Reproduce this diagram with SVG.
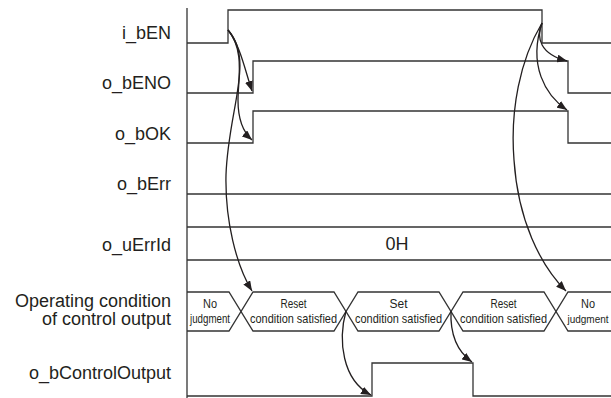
<svg xmlns="http://www.w3.org/2000/svg" width="611" height="398" viewBox="0 0 611 398">
<defs>
<marker id="ah" viewBox="0 0 10 8" refX="10" refY="4" markerWidth="10" markerHeight="8" markerUnits="userSpaceOnUse" orient="auto">
<path d="M0,0 L10,4 L0,8 Z" fill="#231f20"/>
</marker>
<style>
.sig{fill:none;stroke:#333;stroke-width:1.3}
.con{fill:none;stroke:#231f20;stroke-width:1.3;marker-end:url(#ah)}
.lbl{font-family:"Liberation Sans",Arial,sans-serif;font-size:18px;fill:#231f20;text-anchor:end}
.val{font-family:"Liberation Sans",Arial,sans-serif;font-size:18px;fill:#231f20;text-anchor:middle}
.st{font-family:"Liberation Sans",Arial,sans-serif;font-size:13px;fill:#231f20;text-anchor:middle}
</style>
</defs>
<rect width="611" height="398" fill="#fff"/>
<path class="sig" d="M187,8 V398"/>
<g id="i_bEN">
<text class="lbl" x="171" y="38.5">i_bEN</text>
<path class="sig" d="M187,43 H228 V10 H542 V43 H611"/>
</g>
<g id="o_bENO">
<text class="lbl" x="171" y="89">o_bENO</text>
<path class="sig" d="M187,93 H253 V61 H568 V93 H611"/>
</g>
<g id="o_bOK">
<text class="lbl" x="171" y="139.5">o_bOK</text>
<path class="sig" d="M187,143 H253 V111 H568 V143 H611"/>
</g>
<g id="o_bErr">
<text class="lbl" x="171" y="189.5">o_bErr</text>
<path class="sig" d="M187,194 H611"/>
</g>
<g id="o_uErrId">
<text class="lbl" x="171" y="250.5">o_uErrId</text>
<path class="sig" d="M187,227 H611 M187,260 H611"/>
<text class="val" x="397" y="250">0H</text>
</g>
<g id="operating_condition">
<text class="lbl" x="171" y="307">Operating condition</text>
<text class="lbl" x="171" y="325">of control output</text>
<path class="sig" d="M187,292 H229 L253,331 H334 L358,292 H439 L463,331 H544 L568,292 H611"/>
<path class="sig" d="M187,331 H229 L253,292 H334 L358,331 H439 L463,292 H544 L568,331 H611"/>
<text class="st" x="210" y="308" textLength="14" lengthAdjust="spacingAndGlyphs">No</text>
<text class="st" x="210" y="323" textLength="40" lengthAdjust="spacingAndGlyphs">judgment</text>
<text class="st" x="293.5" y="308" textLength="26" lengthAdjust="spacingAndGlyphs">Reset</text>
<text class="st" x="293.5" y="323" textLength="87" lengthAdjust="spacingAndGlyphs">condition satisfied</text>
<text class="st" x="398.5" y="308" textLength="18" lengthAdjust="spacingAndGlyphs">Set</text>
<text class="st" x="398.5" y="323" textLength="87" lengthAdjust="spacingAndGlyphs">condition satisfied</text>
<text class="st" x="503.5" y="308" textLength="26" lengthAdjust="spacingAndGlyphs">Reset</text>
<text class="st" x="503.5" y="323" textLength="87" lengthAdjust="spacingAndGlyphs">condition satisfied</text>
<text class="st" x="588" y="308" textLength="14" lengthAdjust="spacingAndGlyphs">No</text>
<text class="st" x="588" y="323" style="font-size:10px">judgment</text>
</g>
<g id="o_bControlOutput">
<text class="lbl" x="171" y="378.5">o_bControlOutput</text>
<path class="sig" d="M187,396 H372 V363 H473 V396 H611"/>
</g>
<g id="connectors">
<path class="con" d="M228,30 C240,45 245,70 252,91"/>
<path class="con" d="M228,30 C245,50 238,80 238,100 C238,120 243,132 252,140"/>
<path class="con" d="M228,30 C255,60 228,110 226,175 C225,220 236,265 252,291"/>
<path class="con" d="M542,23 C536,38 540,54 567,61"/>
<path class="con" d="M542,23 C528,65 545,95 567,110"/>
<path class="con" d="M542,23 C520,60 510,110 514,160 C518,220 540,265 566,291"/>
<path class="con" d="M346,311 C338,340 342,380 371,395"/>
<path class="con" d="M451,311 C450,335 458,352 472,362"/>
</g>
</svg>
